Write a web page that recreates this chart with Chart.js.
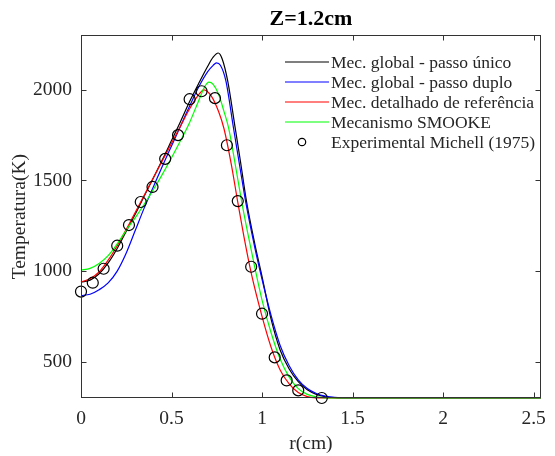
<!DOCTYPE html>
<html lang="pt">
<head>
    <meta charset="UTF-8">
    <title>Z=1.2cm</title>
    <script src="https://cdn.jsdelivr.net/npm/chart.js"></script>
    <style>
        html, body { margin: 0; padding: 0; background: #fff; }
        #chart-container { width: 555px; height: 456px; }
    </style>
</head>
<body>
    <div id="chart-container">
        <canvas id="myChart"></canvas>
    </div>
    <script>
        // r (cm) and temperature (K)
        var rPassoUnico = [0, 0.05, 0.1, 0.15, 0.2, 0.25, 0.3, 0.35, 0.4, 0.45, 0.5, 0.55, 0.6, 0.65, 0.7, 0.73, 0.758, 0.78, 0.81, 0.85, 0.88, 0.914, 0.96, 1.0, 1.05, 1.1, 1.15, 1.2, 1.25, 1.3, 1.35, 1.4, 1.5, 2.54];
        var tPassoUnico = [940, 950, 985, 1045, 1125, 1220, 1315, 1415, 1515, 1615, 1720, 1825, 1935, 2035, 2130, 2180, 2203, 2170, 2050, 1800, 1610, 1386, 1150, 970, 735, 565, 460, 390, 345, 320, 307, 302, 300, 300];

        var rPassoDuplo = [0, 0.05, 0.1, 0.15, 0.2, 0.25, 0.3, 0.35, 0.4, 0.45, 0.5, 0.55, 0.6, 0.65, 0.7, 0.73, 0.748, 0.77, 0.8, 0.842, 0.88, 0.91, 0.96, 1.0, 1.05, 1.1, 1.15, 1.2, 1.25, 1.3, 1.35, 1.4, 1.5, 2.54];
        var tPassoDuplo = [865, 872, 897, 935, 1000, 1100, 1225, 1350, 1465, 1580, 1690, 1800, 1910, 2015, 2100, 2135, 2148, 2135, 2050, 1791, 1560, 1380, 1130, 955, 755, 590, 478, 400, 352, 325, 310, 303, 300, 300];

        var rDetalhado = [0, 0.05, 0.1, 0.15, 0.2, 0.25, 0.3, 0.35, 0.4, 0.45, 0.5, 0.55, 0.6, 0.64, 0.68, 0.72, 0.76, 0.79, 0.83, 0.866, 0.9, 0.94, 1.0, 1.05, 1.1, 1.15, 1.2, 1.25, 1.3, 1.35, 2.54];
        var tDetalhado = [940, 958, 995, 1060, 1140, 1230, 1325, 1420, 1515, 1610, 1705, 1800, 1895, 1960, 2000, 1965, 1880, 1785, 1590, 1380, 1190, 990, 750, 580, 455, 378, 330, 308, 301, 300, 300];

        var rSmooke = [0, 0.05, 0.1, 0.15, 0.2, 0.25, 0.3, 0.35, 0.4, 0.45, 0.5, 0.55, 0.6, 0.65, 0.685, 0.707, 0.73, 0.76, 0.79, 0.815, 0.85, 0.887, 0.92, 0.96, 1.0, 1.05, 1.1, 1.15, 1.2, 1.25, 1.3, 1.35, 1.4, 2.54];
        var tSmooke = [1005, 1015, 1042, 1085, 1150, 1225, 1295, 1370, 1450, 1535, 1625, 1720, 1820, 1940, 2020, 2042, 2030, 1975, 1880, 1791, 1600, 1386, 1215, 1020, 840, 660, 515, 415, 352, 320, 306, 301, 300, 300];

        var rMichell = [0, 0.065, 0.125, 0.2, 0.265, 0.33, 0.395, 0.465, 0.536, 0.6, 0.666, 0.74, 0.806, 0.866, 0.94, 1.0, 1.07, 1.136, 1.2, 1.33];
        var tMichell = [887, 936, 1013, 1140, 1254, 1381, 1464, 1619, 1750, 1948, 1992, 1954, 1694, 1386, 1024, 765, 524, 397, 342, 300];

        var seriesLabels = ['Mec. global - passo único', 'Mec. global - passo duplo', 'Mec. detalhado de referência', 'Mecanismo SMOOKE', 'Experimental Michell (1975)'];
        var seriesColors = ['#000000', '#0000ff', '#ff0000', '#00ff00', '#000000'];

        var xTicks = [0, 0.5, 1, 1.5, 2, 2.5];
        var yTicks = [500, 1000, 1500, 2000];

        var serif = '"Liberation Serif", "Times New Roman", serif';
        var textColor = '#262626';

        function pts(xs, ys) {
            return xs.map(function(v, i) { return { x: v, y: ys[i] }; });
        }

        function lineSet(i, xs, ys, order) {
            return {
                label: seriesLabels[i],
                data: pts(xs, ys),
                showLine: true,
                borderColor: seriesColors[i],
                borderWidth: 1.2,
                pointRadius: 0,
                cubicInterpolationMode: 'monotone',
                fill: false,
                clip: false,
                order: order
            };
        }

        // box around the plot with inward ticks, like the original figure
        var frame = {
            id: 'frame',
            afterDatasetsDraw: function(chart) {
                var ctx = chart.ctx, a = chart.chartArea;
                var sx = chart.scales.x, sy = chart.scales.y;
                var l = Math.round(a.left) + 0.5, r = Math.round(a.right) - 0.5;
                var t = Math.round(a.top) + 0.5, b = Math.round(a.bottom) - 0.5;
                ctx.save();
                ctx.strokeStyle = '#333';
                ctx.lineWidth = 1;
                ctx.strokeRect(l, t, r - l, b - t);
                ctx.beginPath();
                xTicks.forEach(function(v) {
                    var px = Math.round(sx.getPixelForValue(v)) + 0.5;
                    ctx.moveTo(px, b); ctx.lineTo(px, b - 5);
                    ctx.moveTo(px, t); ctx.lineTo(px, t + 5);
                });
                yTicks.forEach(function(v) {
                    var py = Math.round(sy.getPixelForValue(v)) + 0.5;
                    ctx.moveTo(l, py); ctx.lineTo(l + 5, py);
                    ctx.moveTo(r, py); ctx.lineTo(r - 5, py);
                });
                ctx.stroke();
                ctx.restore();
            }
        };

        var legendBox = {
            id: 'legendBox',
            afterDraw: function(chart) {
                var ctx = chart.ctx;
                var x0 = 285, y0 = 62, step = 20;
                ctx.save();
                ctx.font = '17.5px ' + serif;
                ctx.textBaseline = 'middle';
                ctx.textAlign = 'left';
                seriesLabels.forEach(function(label, i) {
                    var yy = y0 + i * step;
                    ctx.strokeStyle = seriesColors[i];
                    ctx.lineWidth = 1.2;
                    ctx.beginPath();
                    if (i < 4) {
                        ctx.moveTo(x0, yy); ctx.lineTo(x0 + 44, yy);
                    } else {
                        ctx.arc(x0 + 17, yy, 3.7, 0, Math.PI * 2);
                    }
                    ctx.stroke();
                    ctx.fillStyle = textColor;
                    ctx.fillText(label, x0 + 46, yy + 1);
                });
                ctx.restore();
            }
        };

        var ctx = document.getElementById('myChart').getContext('2d');
        var myChart = new Chart(ctx, {
            type: 'scatter',
            data: {
                datasets: [
                    lineSet(0, rPassoUnico, tPassoUnico, 4),
                    lineSet(1, rPassoDuplo, tPassoDuplo, 3),
                    lineSet(2, rDetalhado, tDetalhado, 2),
                    lineSet(3, rSmooke, tSmooke, 1),
                    {
                        label: seriesLabels[4],
                        data: pts(rMichell, tMichell),
                        showLine: false,
                        pointStyle: 'circle',
                        pointRadius: 5.5,
                        pointBorderWidth: 1.2,
                        borderColor: seriesColors[4],
                        backgroundColor: 'rgba(0,0,0,0)',
                        clip: false,
                        order: 0
                    }
                ]
            },
            options: {
                responsive: true,
                maintainAspectRatio: false,
                animation: false,
                devicePixelRatio: 1,
                layout: { padding: { left: 0, right: 5, top: 0, bottom: 0 } },
                plugins: {
                    legend: { display: false },
                    tooltip: { enabled: false },
                    title: {
                        display: true,
                        text: 'Z=1.2cm',
                        fullSize: false,
                        color: '#000',
                        font: { family: serif, size: 22, weight: 'bold' },
                        padding: { top: 6, bottom: 3 }
                    }
                },
                scales: {
                    x: {
                        type: 'linear',
                        min: 0,
                        max: 2.54,
                        afterBuildTicks: function(s) { s.ticks = xTicks.map(function(v) { return { value: v }; }); },
                        afterFit: function(s) { s.height = 58; },
                        grid: { display: false, drawTicks: false },
                        border: { display: false },
                        ticks: {
                            color: textColor,
                            font: { family: serif, size: 19.5 },
                            padding: 9,
                            maxRotation: 0,
                            autoSkip: false,
                            callback: function(v) { return String(v); }
                        },
                        title: {
                            display: true,
                            text: 'r(cm)',
                            color: textColor,
                            font: { family: serif, size: 19.5 },
                            padding: { top: 0, bottom: 0 }
                        }
                    },
                    y: {
                        min: 300,
                        max: 2300,
                        afterBuildTicks: function(s) { s.ticks = yTicks.map(function(v) { return { value: v }; }); },
                        afterFit: function(s) { s.width = 81; },
                        grid: { display: false, drawTicks: false },
                        border: { display: false },
                        ticks: {
                            color: textColor,
                            font: { family: serif, size: 19.5 },
                            padding: 9,
                            autoSkip: false,
                            callback: function(v) { return String(v); }
                        },
                        title: {
                            display: true,
                            text: 'Temperatura(K)',
                            color: textColor,
                            font: { family: serif, size: 19.5 },
                            padding: { top: 8, bottom: 0 }
                        }
                    }
                }
            },
            plugins: [frame, legendBox]
        });
    </script>
</body>
</html>
